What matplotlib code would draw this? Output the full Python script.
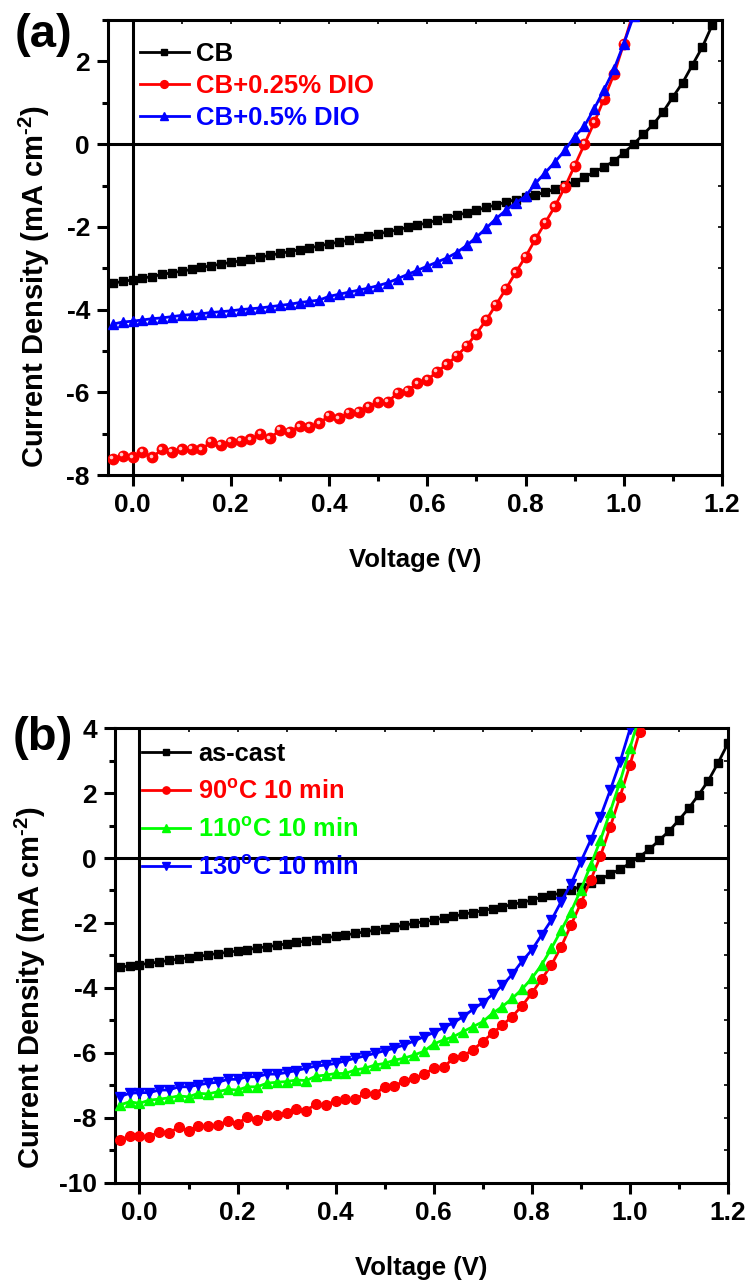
import matplotlib
matplotlib.use('Agg')
import matplotlib.pyplot as plt
import matplotlib.transforms as mtrans
from matplotlib.ticker import MultipleLocator
from matplotlib import font_manager
import numpy as np

plt.rcParams['font.family'] = ['Liberation Sans', 'DejaVu Sans']
plt.rcParams['font.weight'] = 'bold'
plt.rcParams['mathtext.fontset'] = 'custom'
plt.rcParams['mathtext.rm'] = 'Liberation Sans:bold'
plt.rcParams['mathtext.bf'] = 'Liberation Sans:bold'
plt.rcParams['mathtext.it'] = 'Liberation Sans:bold'
plt.rcParams['mathtext.default'] = 'bf'

# narrow face for the y label, if the system has it
_names = {f.name for f in font_manager.fontManager.ttflist}
NARROW = 'Liberation Sans Narrow' in _names

# ---------------- panel (a) data ----------------
V_A = np.round(np.arange(-0.04, 1.181, 0.02), 2)
J_CB = [-3.36, -3.32, -3.28, -3.24, -3.20, -3.15, -3.11, -3.07, -3.03, -2.98,
        -2.94, -2.90, -2.86, -2.82, -2.77, -2.73, -2.69, -2.64, -2.60, -2.55,
        -2.51, -2.46, -2.41, -2.37, -2.32, -2.27, -2.22, -2.17, -2.12, -2.07,
        -2.01, -1.96, -1.90, -1.84, -1.78, -1.72, -1.66, -1.60, -1.53, -1.47,
        -1.40, -1.34, -1.28, -1.23, -1.16, -1.09, -0.99, -0.91, -0.79, -0.68,
        -0.55, -0.41, -0.21, 0.00, 0.24, 0.48, 0.78, 1.14, 1.49, 1.92,
        2.35, 2.88]

V_A2 = np.round(np.arange(-0.04, 1.021, 0.02), 2)
J_DIO025 = [-7.60, -7.54, -7.57, -7.44, -7.57, -7.38, -7.44, -7.38, -7.36, -7.38,
            -7.20, -7.27, -7.20, -7.17, -7.14, -7.01, -7.11, -6.91, -6.95, -6.82,
            -6.84, -6.75, -6.57, -6.63, -6.49, -6.47, -6.35, -6.23, -6.23, -6.01,
            -5.96, -5.78, -5.70, -5.50, -5.32, -5.12, -4.88, -4.58, -4.25, -3.88,
            -3.50, -3.10, -2.72, -2.30, -1.90, -1.50, -1.04, -0.52, 0.00, 0.53,
            1.10, 1.69, 2.43, 3.20]
J_DIO05 = [-4.35, -4.30, -4.28, -4.25, -4.22, -4.20, -4.17, -4.14, -4.12, -4.10,
           -4.07, -4.05, -4.03, -4.00, -3.98, -3.96, -3.93, -3.90, -3.87, -3.83,
           -3.80, -3.77, -3.68, -3.63, -3.58, -3.53, -3.48, -3.42, -3.35, -3.25,
           -3.15, -3.05, -2.95, -2.85, -2.75, -2.62, -2.45, -2.25, -2.03, -1.80,
           -1.60, -1.42, -1.26, -0.95, -0.69, -0.43, -0.15, 0.18, 0.44, 0.86,
           1.32, 1.81, 2.43, 3.10]

# ---------------- panel (b) data ----------------
V_B = np.round(np.arange(-0.04, 1.201, 0.02), 2)
J_ASCAST = [-3.36, -3.32, -3.28, -3.24, -3.20, -3.15, -3.11, -3.07, -3.03, -2.98,
            -2.94, -2.90, -2.86, -2.82, -2.77, -2.73, -2.69, -2.64, -2.60, -2.55,
            -2.51, -2.46, -2.41, -2.37, -2.32, -2.27, -2.22, -2.17, -2.12, -2.07,
            -2.01, -1.96, -1.91, -1.85, -1.80, -1.73, -1.68, -1.62, -1.56, -1.50,
            -1.43, -1.37, -1.29, -1.21, -1.15, -1.07, -0.98, -0.88, -0.78, -0.66,
            -0.49, -0.35, -0.16, 0.04, 0.27, 0.55, 0.83, 1.17, 1.53, 1.94,
            2.38, 2.93, 3.53]

V_B2 = np.round(np.arange(-0.04, 1.021, 0.02), 2)
J_90 = [-8.68, -8.55, -8.55, -8.58, -8.42, -8.45, -8.29, -8.39, -8.25, -8.25,
        -8.23, -8.08, -8.18, -7.96, -8.06, -7.91, -7.91, -7.84, -7.73, -7.77,
        -7.57, -7.60, -7.47, -7.43, -7.43, -7.24, -7.26, -7.04, -7.02, -6.85,
        -6.78, -6.65, -6.47, -6.44, -6.16, -6.09, -5.90, -5.65, -5.39, -5.14,
        -4.88, -4.55, -4.16, -3.73, -3.29, -2.73, -2.06, -1.39, -0.68, 0.06,
        0.96, 1.89, 2.86, 3.89]
J_110 = [-7.60, -7.50, -7.55, -7.45, -7.42, -7.38, -7.32, -7.35, -7.24, -7.26,
         -7.19, -7.12, -7.14, -7.04, -7.04, -6.93, -6.90, -6.88, -6.83, -6.85,
         -6.71, -6.68, -6.63, -6.63, -6.52, -6.47, -6.37, -6.32, -6.22, -6.16,
         -6.06, -5.95, -5.72, -5.60, -5.50, -5.34, -5.19, -5.04, -4.78, -4.57,
         -4.32, -4.04, -3.70, -3.29, -2.78, -2.22, -1.65, -0.98, -0.22, 0.55,
         1.43, 2.35, 3.37, 4.40]
V_B3 = np.round(np.arange(-0.04, 1.001, 0.02), 2)
J_130 = [-7.34, -7.24, -7.22, -7.22, -7.14, -7.14, -7.04, -7.04, -6.98, -6.93,
         -6.90, -6.81, -6.81, -6.73, -6.73, -6.65, -6.65, -6.60, -6.54, -6.47,
         -6.40, -6.37, -6.32, -6.24, -6.16, -6.09, -6.01, -5.93, -5.85, -5.75,
         -5.63, -5.50, -5.37, -5.22, -5.07, -4.88, -4.66, -4.45, -4.20, -3.92,
         -3.58, -3.18, -2.83, -2.37, -1.91, -1.34, -0.80, -0.11, 0.55, 1.27,
         2.09, 2.96, 3.96]

YLABEL = 'Current Density (mA cm$^{\u2010 2}$)'


def style_axes(ax, ylim, ymajor, ylab_xy):
    ax.set_xlim(-0.05, 1.2)
    ax.set_ylim(*ylim)
    ax.axhline(0, color='black', lw=2.2, zorder=1)
    ax.axvline(0, color='black', lw=2.2, zorder=1)
    for sp in ax.spines.values():
        sp.set_linewidth(2.2)
    ax.xaxis.set_major_locator(MultipleLocator(0.2))
    ax.xaxis.set_minor_locator(MultipleLocator(0.1))
    ax.yaxis.set_major_locator(MultipleLocator(ymajor))
    ax.yaxis.set_minor_locator(MultipleLocator(ymajor / 2))
    ax.xaxis.set_major_formatter(plt.FuncFormatter(lambda v, p: f'{v:.1f}'))
    ax.yaxis.set_major_formatter(plt.FuncFormatter(lambda v, p: f'{v:.0f}'))
    ax.tick_params(which='major', direction='out', length=8, width=2.2,
                   labelsize=19, pad=5)
    ax.tick_params(which='minor', direction='out', length=4.5, width=2.2)
    ax.tick_params(which='both', top=False, right=False)
    # short inward ticks on top/right
    sec_x = ax.secondary_xaxis('top')
    sec_x.xaxis.set_major_locator(MultipleLocator(0.1))
    sec_x.tick_params(direction='in', length=3, width=1.2, labeltop=False)
    sec_x.spines['top'].set_visible(False)
    sec_y = ax.secondary_yaxis('right')
    sec_y.yaxis.set_major_locator(MultipleLocator(ymajor / 2))
    sec_y.tick_params(direction='in', length=3, width=1.2, labelright=False)
    sec_y.spines['right'].set_visible(False)
    ax.set_xlabel('Voltage (V)', fontsize=18.5, fontweight='bold', labelpad=22)
    if NARROW:
        ax.set_ylabel(YLABEL, fontsize=25, fontweight='bold',
                      family=['Liberation Sans Narrow', 'DejaVu Sans'])
    else:
        ax.set_ylabel(YLABEL, fontsize=21, fontweight='bold')
    ax.yaxis.set_label_coords(*ylab_xy)


fig = plt.figure(figsize=(7.49, 12.86), dpi=100)
ax1 = fig.add_axes([0.1442, 0.6306, 0.8198, 0.3538])
ax2 = fig.add_axes([0.1535, 0.0801, 0.8184, 0.3538])

# panel (a)
style_axes(ax1, (-8, 3), 2, (-0.092, 0.415))
ax1.plot(V_A, J_CB, color='black', lw=2, marker='s', ms=6, label='CB', zorder=3)
ax1.plot(V_A2, J_DIO025, color='red', lw=2, marker='o', ms=7.5,
         label='CB+0.25% DIO', zorder=4)
hl = mtrans.offset_copy(ax1.transData, fig=fig, x=-1.2, y=1.2, units='points')
ax1.plot(V_A2, J_DIO025, ls='none', marker='o', ms=2.6, color='#ffc8c8',
         mec='none', transform=hl, zorder=5, clip_on=True)
ax1.plot(V_A2, J_DIO05, color='blue', lw=2, marker='^', ms=7.5,
         label='CB+0.5% DIO', zorder=6)
leg1 = ax1.legend(loc='upper left', bbox_to_anchor=(0.052, 0.952), frameon=False,
                  fontsize=18.5, handlelength=1.9, handletextpad=0.3,
                  labelspacing=0.32, borderaxespad=0, borderpad=0,
                  labelcolor='linecolor', markerscale=0.75)
for t in leg1.get_texts():
    t.set_fontweight('bold')
fig.text(0.019, 0.99, '(a)', fontsize=34, fontweight='bold', va='top', ha='left')

# panel (b)
style_axes(ax2, (-10, 4), 2, (-0.11, 0.43))
ax2.plot(V_B, J_ASCAST, color='black', lw=2, marker='s', ms=6,
         label='as-cast', zorder=3)
ax2.plot(V_B2, J_90, color='red', lw=2, marker='o', ms=7,
         label='90$^{\\mathrm{o}}$C 10 min', zorder=4)
ax2.plot(V_B2, J_110, color='#00ff00', lw=2, marker='^', ms=7.5,
         label='110$^{\\mathrm{o}}$C 10 min', zorder=5)
ax2.plot(V_B3, J_130, color='blue', lw=2, marker='v', ms=7.5,
         label='130$^{\\mathrm{o}}$C 10 min', zorder=6)
leg2 = ax2.legend(loc='upper left', bbox_to_anchor=(0.044, 0.97), frameon=False,
                  fontsize=18.3, handlelength=1.9, handletextpad=0.3,
                  labelspacing=0.55, borderaxespad=0, borderpad=0,
                  labelcolor='linecolor', markerscale=0.75)
for t in leg2.get_texts():
    t.set_fontweight('bold')
fig.text(0.017, 0.443, '(b)', fontsize=34, fontweight='bold', va='top', ha='left')

fig.savefig('out.png', dpi=100, facecolor='white')
